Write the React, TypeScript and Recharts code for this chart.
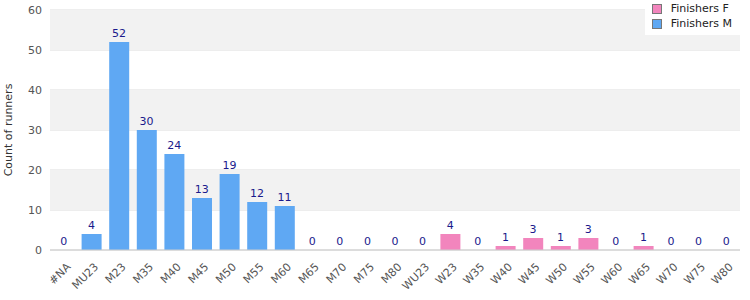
import React from 'react';
import {
  ComposedChart,
  Bar,
  Line,
  XAxis,
  YAxis,
  CartesianGrid,
  Legend,
  LabelList,
  ReferenceArea,
} from 'recharts';

const categories = ['#NA', 'MU23', 'M23', 'M35', 'M40', 'M45', 'M50', 'M55', 'M60', 'M65', 'M70', 'M75', 'M80',
  'WU23', 'W23', 'W35', 'W40', 'W45', 'W50', 'W55', 'W60', 'W65', 'W70', 'W75', 'W80'];
const finishersM = [0, 4, 52, 30, 24, 13, 19, 12, 11, 0, 0, 0, 0, 0, 0, 0, 0, 0, 0, 0, 0, 0, 0, 0, 0];
const finishersF = [0, 0, 0, 0, 0, 0, 0, 0, 0, 0, 0, 0, 0, 0, 4, 0, 1, 3, 1, 3, 0, 1, 0, 0, 0];
const yTicks = [0, 10, 20, 30, 40, 50, 60];
const bands: [number, number][] = [[10, 20], [30, 40], [50, 60]];

const FONT = '"DejaVu Sans", Verdana, sans-serif';
const BLUE = '#5fa8f3';
const PINK = '#f285bd';

const chartData = categories.map((cat, i) => ({
  cat,
  F: finishersF[i],
  M: finishersM[i],
  total: finishersF[i] + finishersM[i],
}));

const AngledTick = (props: any) => {
  const { x, y, payload } = props;
  return (
    <text
      x={x + 5}
      y={y + 7}
      transform={`rotate(-45, ${x + 5}, ${y + 7})`}
      textAnchor="end"
      dominantBaseline="central"
      fontSize={11}
      fontFamily={FONT}
      fill="#555"
    >
      {payload.value}
    </text>
  );
};

const LegendBox = () => (
  <div style={{ background: '#fff', padding: '1px 8px 4px 7px', fontFamily: FONT, fontSize: 11, color: '#222' }}>
    {[{ name: 'Finishers F', color: PINK }, { name: 'Finishers M', color: BLUE }].map((it) => (
      <div key={it.name} style={{ display: 'flex', alignItems: 'center', height: 15 }}>
        <span style={{ display: 'inline-block', width: 8, height: 8, background: it.color, border: '1px solid #777', marginRight: 9 }} />
        {it.name}
      </div>
    ))}
  </div>
);

export default function App() {
  return (
    <div style={{ position: 'absolute', left: 0, top: 0, width: 750, height: 300, background: '#fff' }}>
      <ComposedChart width={750} height={300} data={chartData} margin={{ top: 10, right: 10, bottom: 0, left: 0 }} barCategoryGap={4}>
        {bands.map(([a, b]) => (
          <ReferenceArea key={a} y1={a} y2={b} fill="#f2f2f2" fillOpacity={1} stroke="none" ifOverflow="visible" />
        ))}
        <CartesianGrid vertical={false} stroke="#dcdcdc" />
        <XAxis
          dataKey="cat"
          interval={0}
          height={50}
          tick={<AngledTick />}
          tickLine={false}
          axisLine={{ stroke: '#ccc' }}
        />
        <YAxis
          width={50}
          domain={[0, 60]}
          ticks={yTicks}
          tickLine={false}
          axisLine={false}
          tick={{ fontSize: 11, fontFamily: FONT, fill: '#555' }}
          label={{ value: 'Count of runners', angle: -90, position: 'insideLeft', offset: 8, style: { fontSize: 11, fontFamily: FONT, fill: '#333', textAnchor: 'middle' } }}
        />
        <YAxis
          yAxisId="border"
          orientation="right"
          width={0}
          domain={[0, 60]}
          tick={false}
          tickLine={false}
          axisLine={{ stroke: '#d4d4d4' }}
        />
        <Legend
          layout="vertical"
          verticalAlign="middle"
          align="center"
          content={<LegendBox />}
          wrapperStyle={{ top: 0, right: 10, left: 'auto', width: 'auto' }}
        />
        <Bar dataKey="F" stackId="a" fill={PINK} isAnimationActive={false} />
        <Bar dataKey="M" stackId="a" fill={BLUE} isAnimationActive={false} />
        <Line dataKey="total" stroke="none" dot={false} activeDot={false} legendType="none" isAnimationActive={false}>
          <LabelList dataKey="total" position="top" offset={5} style={{ fontSize: 11, fontFamily: FONT, fill: '#1a1a8c' }} />
        </Line>
      </ComposedChart>
    </div>
  );
}
